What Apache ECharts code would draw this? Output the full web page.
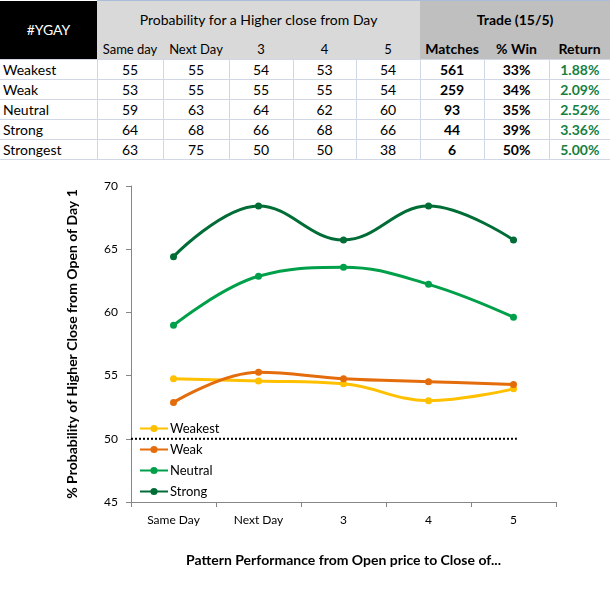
<!DOCTYPE html>
<html>
<head>
<meta charset="utf-8">
<title>#YGAY</title>
<script src="https://cdn.jsdelivr.net/npm/echarts@6/dist/echarts.min.js"></script>
<style>
	html, body { margin: 0; padding: 0; background: #fff; }
	body { width: 610px; height: 596px; position: relative; overflow: hidden; font-family: Lato, 'Noto Sans', sans-serif; }
	#tbl { position: absolute; left: 0; top: 0; width: 610px; border-collapse: collapse; table-layout: fixed; font-size: 14px; color: #000; }
	#tbl td { padding: 0; text-align: center; white-space: nowrap; }
	#tbl .h1 td { height: 37px; }
	#tbl .h2 td { height: 21px; }
	#tbl .row td { height: 19px; border: 1px solid #d0d7e5; }
	#tbl .row td:first-child { text-align: left; padding-left: 3px; border-left: none; }
	#tbl .row td:last-child { border-right: none; }
	#tbl .tag { background: #000; color: #fff; }
	#tbl .prob { background: #d9d9d9; border-top: 1px solid #a9bcd8; }
	#tbl .trade { background: #bfbfbf; font-weight: bold; border-top: 1px solid #a9bcd8; }
	#tbl .b { font-weight: bold; }
	#tbl .g { font-weight: bold; color: #17803f; }
	#main { position: absolute; left: 0; top: 160px; width: 610px; height: 436px; }
</style>
</head>
<body>
<table id="tbl"></table>
<div id="main"></div>
<script>
// 表格数据
var tableTitle = '#YGAY';
var probTitle = 'Probability for a Higher close from Day';
var tradeTitle = 'Trade (15/5)';
var dayCols = ['Same day', 'Next Day', '3', '4', '5'];
var tradeCols = ['Matches', '% Win', 'Return'];
var rowNames = ['Weakest', 'Weak', 'Neutral', 'Strong', 'Strongest'];
var probTable = [
	[55, 55, 54, 53, 54],
	[53, 55, 55, 55, 54],
	[59, 63, 64, 62, 60],
	[64, 68, 66, 68, 66],
	[63, 75, 50, 50, 38]
];
var matches = [561, 259, 93, 44, 6];
var winPct = ['33%', '34%', '35%', '39%', '50%'];
var returns = ['1.88%', '2.09%', '2.52%', '3.36%', '5.00%'];

// 图表数据
var categories = ['Same Day', 'Next Day', '3', '4', '5'];
var weakest = [54.75, 54.57, 54.35, 53.02, 53.95];
var weak = [52.88, 55.26, 54.75, 54.52, 54.3];
var neutral = [58.98, 62.86, 63.57, 62.22, 59.62];
var strong = [64.41, 68.42, 65.73, 68.42, 65.73];
var refLine = [[-0.5, 50], [4.04, 50]]; // 50% 虚线
var seriesNames = ['Weakest', 'Weak', 'Neutral', 'Strong'];
var seriesColors = ['#ffc000', '#e46c0a', '#00a04a', '#006c36'];

// 画表格
function buildTable() {
	var colW = [97, 66, 66, 64, 63, 64, 64, 65, 61];
	var html = '<colgroup>';
	colW.forEach(function(w) { html += '<col style="width:' + w + 'px">'; });
	html += '</colgroup>';
	html += '<tr class="h1"><td class="tag" rowspan="2">' + tableTitle + '</td>' +
		'<td class="prob" colspan="5">' + probTitle + '</td>' +
		'<td class="trade" colspan="3">' + tradeTitle + '</td></tr>';
	html += '<tr class="h2">';
	dayCols.forEach(function(c) { html += '<td class="prob" style="border-top:none;font-size:13px">' + c + '</td>'; });
	tradeCols.forEach(function(c) { html += '<td class="trade" style="border-top:none">' + c + '</td>'; });
	html += '</tr>';
	rowNames.forEach(function(name, i) {
		html += '<tr class="row"><td>' + name + '</td>';
		probTable[i].forEach(function(v) { html += '<td>' + v + '</td>'; });
		html += '<td class="b">' + matches[i] + '</td><td class="b">' + winPct[i] + '</td><td class="g">' + returns[i] + '</td></tr>';
	});
	document.getElementById('tbl').innerHTML = html;
}
buildTable();

var myChart = echarts.init(document.getElementById('main'));
var fontFamily = 'Lato, "Noto Sans", sans-serif';
var dataList = [weakest, weak, neutral, strong];

var attrData = [];
dataList.forEach(function(element, index) {
	attrData.push({
		name: seriesNames[index],
		type: 'line',
		data: element,
		smooth: 0.4,
		symbol: 'circle',
		symbolSize: 7,
		color: seriesColors[index],
		lineStyle: { width: 3 },
		z: 3 + index
	});
});
// 50 那条点线，用隐藏的数值轴定位
attrData.push({
	name: 'Level 50',
	type: 'line',
	xAxisIndex: 1,
	data: refLine,
	symbol: 'none',
	silent: true,
	lineStyle: { color: '#000', width: 2, type: [2, 2] },
	z: 2
});

var option = {
	animation: false,
	textStyle: { fontFamily: fontFamily },
	grid: {
		left: 131,
		right: 54,
		top: 26,
		bottom: 94
	},
	legend: {
		data: seriesNames,
		orient: 'vertical',
		left: 139,
		top: 262,
		itemWidth: 28,
		itemHeight: 9,
		itemGap: 8,
		padding: 0,
		textStyle: { fontSize: 13, color: '#000', fontFamily: fontFamily, padding: [0, 0, 0, -3] }
	},
	xAxis: [{
		type: 'category',
		data: categories,
		boundaryGap: true,
		name: 'Pattern Performance from Open price to Close of...',
		nameLocation: 'middle',
		nameGap: 51,
		nameTextStyle: { fontSize: 14, fontWeight: 'bold', color: '#000', fontFamily: fontFamily },
		axisLine: { onZero: false, lineStyle: { color: '#868686', width: 1 } },
		axisTick: { show: true, length: 5, interval: 0, lineStyle: { color: '#868686' } },
		axisLabel: { fontSize: 12, color: '#000', margin: 12 },
		splitLine: { show: false }
	}, {
		type: 'value',
		min: -0.5,
		max: 4.5,
		show: false
	}],
	yAxis: {
		type: 'value',
		min: 45,
		max: 70,
		interval: 5,
		name: '% Probability of Higher Close from Open of Day 1',
		nameLocation: 'middle',
		nameGap: 52,
		nameTextStyle: { fontSize: 14, fontWeight: 'bold', color: '#000', fontFamily: fontFamily },
		axisLine: { show: true, onZero: false, lineStyle: { color: '#868686', width: 1 } },
		axisTick: { show: true, length: 5, inside: false, lineStyle: { color: '#868686' } },
		axisLabel: { fontSize: 12, color: '#000', margin: 13 },
		splitLine: { show: false }
	},
	series: attrData
};

myChart.setOption(option);
</script>
</body>
</html>
